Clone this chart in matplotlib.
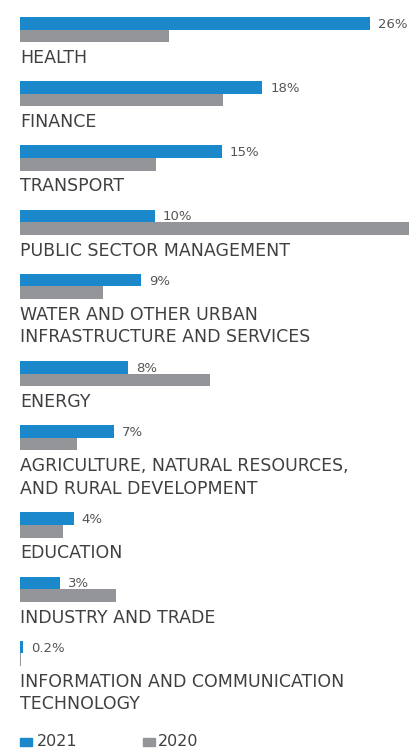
import matplotlib
matplotlib.use("Agg")
import matplotlib.pyplot as plt
from matplotlib.patches import Rectangle

# datos (porcentaje por sector)
sectores = [
    "HEALTH",
    "FINANCE",
    "TRANSPORT",
    "PUBLIC SECTOR MANAGEMENT",
    "WATER AND OTHER URBAN\nINFRASTRUCTURE AND SERVICES",
    "ENERGY",
    "AGRICULTURE, NATURAL RESOURCES,\nAND RURAL DEVELOPMENT",
    "EDUCATION",
    "INDUSTRY AND TRADE",
    "INFORMATION AND COMMUNICATION\nTECHNOLOGY",
]
valores_2021 = [26, 18, 15, 10, 9, 8, 7, 4, 3, 0.2]
valores_2020 = [11.1, 15.1, 10.1, 30.0, 6.2, 14.1, 4.2, 3.2, 7.1, 0.1]
etiquetas_2021 = ["26%", "18%", "15%", "10%", "9%", "8%", "7%", "4%", "3%", "0.2%"]

AZUL = "#1a88cb"
GRIS = "#939598"
TEXTO = "#404040"
FUENTE = "DejaVu Sans"

W, H = 410, 749
fig = plt.figure(figsize=(W / 100, H / 100), dpi=100)
ax = fig.add_axes([0, 0, 1, 1])

# escala: 0% en x=20 px, 26% en x=370 px
px_por_pct = 350 / 26
ax.set_xlim(-20 / px_por_pct, (W - 20) / px_por_pct)
ax.set_ylim(H, 0)
ax.axis("off")

alto = 12.6
paso = 64.2
extra_linea = 23
top = 17
for sector, v21, v20, etq in zip(sectores, valores_2021, valores_2020, etiquetas_2021):
    y21 = top + alto / 2
    y20 = top + alto * 1.5
    ax.barh(y21, v21, height=alto, color=AZUL, left=0)
    ax.barh(y20, v20, height=alto, color=GRIS, left=0)
    ax.text(v21 + 8 / px_por_pct, y21 + 1, etq, ha="left", va="center",
            fontsize=9.5, color="#555555", family=FUENTE)
    n_lineas = sector.count("\n") + 1
    for i, linea in enumerate(sector.split("\n")):
        ax.text(0, top + 41 + i * 22.5, linea, ha="left", va="center",
                fontsize=12.5, color=TEXTO, family=FUENTE)
    top += paso + extra_linea * (n_lineas - 1)

# leyenda
yl = 742
ax.add_patch(Rectangle((0, yl - 4), 12 / px_por_pct, 8, color=AZUL, clip_on=True))
ax.text(17 / px_por_pct, yl, "2021", ha="left", va="center", fontsize=11.5, color=TEXTO, family=FUENTE)
ax.add_patch(Rectangle((123 / px_por_pct, yl - 4), 12 / px_por_pct, 8, color=GRIS, clip_on=True))
ax.text(138 / px_por_pct, yl, "2020", ha="left", va="center", fontsize=11.5, color=TEXTO, family=FUENTE)

fig.savefig("out.png", dpi=100)
